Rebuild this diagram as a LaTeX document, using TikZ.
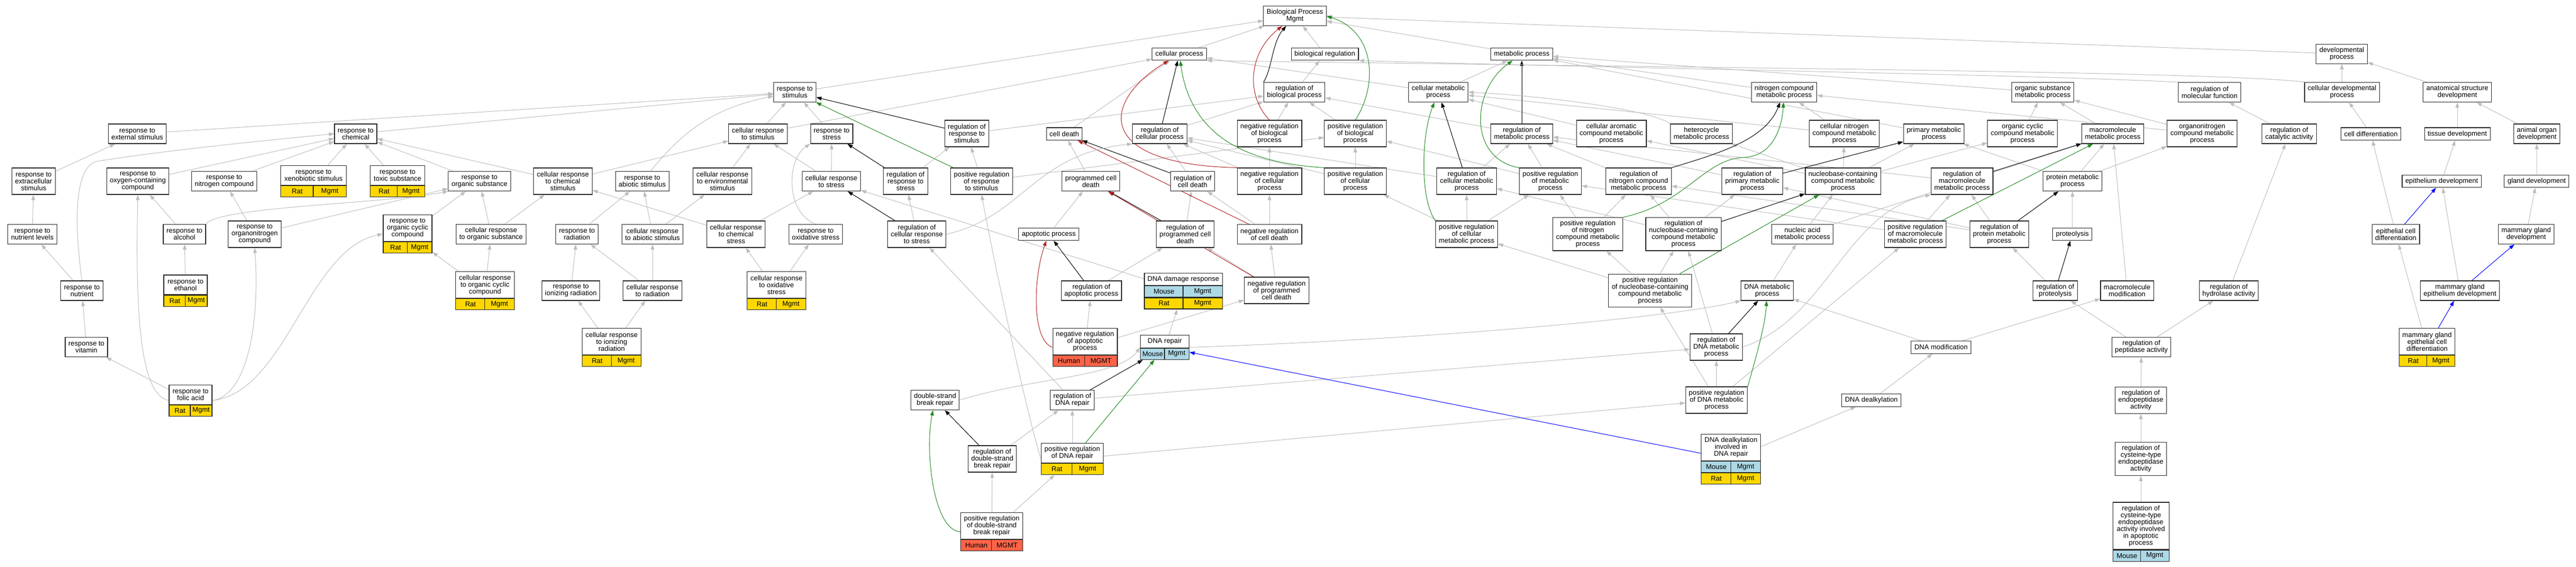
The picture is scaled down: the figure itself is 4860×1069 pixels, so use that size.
\documentclass[tikz,border=0pt]{standalone}
\usepackage{fontspec}
\setmainfont{Liberation Sans}
\usetikzlibrary{arrows.meta,calc,fit,backgrounds}
\pgfdeclarelayer{edges}
\pgfsetlayers{background,edges,main}
\definecolor{edgegray}{RGB}{190,190,190}
\definecolor{posgreen}{RGB}{34,139,34}
\definecolor{negred}{RGB}{178,34,34}
\definecolor{ratgold}{RGB}{255,215,0}
\definecolor{mouseblue}{RGB}{173,216,230}
\definecolor{humanred}{RGB}{255,99,71}
\definecolor{boxline}{RGB}{40,40,40}
\newcommand{\gofont}{\fontsize{13pt}{13pt}\selectfont}
\newcommand{\sprow}[6]{%
  \path let \p1=($(#2.south east)-(#1.south west)$) in
    node[#4, anchor=north west, minimum width=0.5*\x1] (#3a) at (#1.south west) {#5}
    node[#4, anchor=north east, minimum width=0.5*\x1] (#3b) at (#2.south east) {#6};}
\tikzset{
  term/.style={draw=boxline, line width=1.1pt, fill=white, align=center, inner xsep=6pt, inner ysep=2pt, font=\gofont},
  l1/.style={term, minimum height=23.5pt},
  l2/.style={term, minimum height=37pt},
  l3/.style={term, minimum height=50pt},
  l4/.style={term, minimum height=62.5pt},
  l6/.style={term, minimum height=89pt},
  spcell/.style={draw=boxline, line width=1.1pt, minimum height=21pt, inner sep=0pt, font=\gofont},
  rat/.style={spcell, fill=ratgold},
  mouse/.style={spcell, fill=mouseblue},
  human/.style={spcell, fill=humanred},
  rec/.style={inner sep=0pt},
  isa/.style={draw=edgegray, line width=1pt, -{Triangle[length=10pt,width=7pt]}},
  reg/.style={isa, draw=black},
  posreg/.style={isa, draw=posgreen},
  negreg/.style={isa, draw=negred},
  partof/.style={isa, draw=blue}
}
\begin{document}
\begin{tikzpicture}[x=1pt,y=-1pt]
\begin{pgfonlayer}{background}
\fill[white] (0,0) rectangle (4860,1069);
\end{pgfonlayer}
\useasboundingbox (0,0) rectangle (4860,1069);

\node[l2] (extstim) at (259,252.5) {response to\\external stimulus};
\node[l2] (chem) at (671,252.5) {response to\\chemical};
\node[l3] (extrac) at (63.5,342) {response to\\extracellular\\stimulus};
\node[l3] (oxy) at (260,342) {response to\\oxygen-containing\\compound};
\node[l2] (nitro) at (423,342) {response to\\nitrogen compound};
\node[l2, minimum width=124] (xeno-t) at (591.5,331) {response to\\xenobiotic stimulus};
\sprow{xeno-t}{xeno-t}{xeno-1}{rat}{Rat}{Mgmt}
\node[rec, fit=(xeno-t)(xeno-1a)(xeno-1b)] (xeno) {};
\node[l2, minimum width=103] (toxic-t) at (750,331) {response to\\toxic substance};
\sprow{toxic-t}{toxic-t}{toxic-1}{rat}{Rat}{Mgmt}
\node[rec, fit=(toxic-t)(toxic-1a)(toxic-1b)] (toxic) {};
\node[l2] (nutlev) at (61,442) {response to\\nutrient levels};
\node[l2] (alcohol) at (348,442) {response to\\alcohol};
\node[l3] (orgnitro) at (480.5,442) {response to\\organonitrogen\\compound};
\node[l3, minimum width=92] (orgcyc-t) at (769,430.5) {response to\\organic cyclic\\compound};
\sprow{orgcyc-t}{orgcyc-t}{orgcyc-1}{rat}{Rat}{Mgmt}
\node[rec, fit=(orgcyc-t)(orgcyc-1a)(orgcyc-1b)] (orgcyc) {};
\node[l2] (nutrient) at (154.5,548.5) {response to\\nutrient};
\node[l2, minimum width=82] (ethanol-t) at (350,537.5) {response to\\ethanol};
\sprow{ethanol-t}{ethanol-t}{ethanol-1}{rat}{Rat}{Mgmt}
\node[rec, fit=(ethanol-t)(ethanol-1a)(ethanol-1b)] (ethanol) {};
\node[l2] (vitamin) at (163,655) {response to\\vitamin};
\node[l2, minimum width=81] (folic-t) at (359.5,744.7) {response to\\folic acid};
\sprow{folic-t}{folic-t}{folic-1}{rat}{Rat}{Mgmt}
\node[rec, fit=(folic-t)(folic-1a)(folic-1b)] (folic) {};

\node[l2] (stim) at (1499.5,174) {response to\\stimulus};
\node[l2] (cstim) at (1430,252.5) {cellular response\\to stimulus};
\node[l2] (stress) at (1569,252.5) {response to\\stress};
\node[l2] (orgsub) at (904.6,342) {response to\\organic substance};
\node[l3] (cchem) at (1062,342) {cellular response\\to chemical\\stimulus};
\node[l2] (abiotic) at (1211.6,342) {response to\\abiotic stimulus};
\node[l3] (envstim) at (1363,342) {cellular response\\to environmental\\stimulus};
\node[l2] (cstress) at (1568.6,342) {cellular response\\to stress};
\node[l2] (corgsub) at (926.5,442) {cellular response\\to organic substance};
\node[l2] (radiation) at (1088.5,442) {response to\\radiation};
\node[l2] (cabiotic) at (1231,442) {cellular response\\to abiotic stimulus};
\node[l3] (cchemstress) at (1388.6,442) {cellular response\\to chemical\\stress};
\node[l2] (oxstress) at (1539,442) {response to\\oxidative stress};
\node[l3, minimum width=108.5] (corgcyc-t) at (915,537.8) {cellular response\\to organic cyclic\\compound};
\sprow{corgcyc-t}{corgcyc-t}{corgcyc-1}{rat}{Rat}{Mgmt}
\node[rec, fit=(corgcyc-t)(corgcyc-1a)(corgcyc-1b)] (corgcyc) {};
\node[l2] (ionrad) at (1077,548.5) {response to\\ionizing radiation};
\node[l2] (crad) at (1231,548.5) {cellular response\\to radiation};
\node[l3, minimum width=108.5] (coxstress-t) at (1465,537.8) {cellular response\\to oxidative\\stress};
\sprow{coxstress-t}{coxstress-t}{coxstress-1}{rat}{Rat}{Mgmt}
\node[rec, fit=(coxstress-t)(coxstress-1a)(coxstress-1b)] (coxstress) {};
\node[l3, minimum width=108] (cionrad-t) at (1154,644.5) {cellular response\\to ionizing\\radiation};
\sprow{cionrad-t}{cionrad-t}{cionrad-1}{rat}{Rat}{Mgmt}
\node[rec, fit=(cionrad-t)(cionrad-1a)(cionrad-1b)] (cionrad) {};

\node[l2] (bp) at (2443,30) {Biological Process\\Mgmt};
\node[l1] (cellproc) at (2225,102) {cellular process};
\node[l2] (regbio) at (2442,174) {regulation of\\biological process};
\node[l3] (regrstim) at (1824,252) {regulation of\\response to\\stimulus};
\node[l1] (celldeath) at (2008,252.7) {cell death};
\node[l2] (regcell) at (2188,252.5) {regulation of\\cellular process};
\node[l3] (negbio) at (2395,252) {negative regulation\\of biological\\process};
\node[l3] (regrstress) at (1708.5,342) {regulation of\\response to\\stress};
\node[l3] (posrstim) at (1852,342) {positive regulation\\of response\\to stimulus};
\node[l2] (pcd) at (2058,342) {programmed cell\\death};
\node[l2] (regcd) at (2250,342) {regulation of\\cell death};
\node[l3] (negcell) at (2395,342) {negative regulation\\of cellular\\process};
\node[l3] (regcstress) at (1729.7,442) {regulation of\\cellular response\\to stress};
\node[l1] (apop) at (1978.7,442) {apoptotic process};
\node[l3] (regpcd) at (2236,442) {regulation of\\programmed cell\\death};
\node[l2] (negcd) at (2395,442) {negative regulation\\of cell death};
\node[l1, minimum width=143] (dnadam-t) at (2232.5,527) {DNA damage response};
\sprow{dnadam-t}{dnadam-t}{dnadam-1}{mouse}{Mouse}{Mgmt}
\sprow{dnadam-1a}{dnadam-1b}{dnadam-2}{rat}{Rat}{Mgmt}
\node[rec, fit=(dnadam-t)(dnadam-2a)(dnadam-2b)] (dnadam) {};
\node[l2] (regapop) at (2059,548.5) {regulation of\\apoptotic process};
\node[l3] (negpcd) at (2408.5,548) {negative regulation\\of programmed\\cell death};
\node[l3, minimum width=119] (negapop-t) at (2047,644.5) {negative regulation\\of apoptotic\\process};
\sprow{negapop-t}{negapop-t}{negapop-1}{human}{Human}{MGMT}
\node[rec, fit=(negapop-t)(negapop-1a)(negapop-1b)] (negapop) {};
\node[l1, minimum width=91.5] (dnarep-t) at (2197.5,644.5) {DNA repair};
\sprow{dnarep-t}{dnarep-t}{dnarep-1}{mouse}{Mouse}{Mgmt}
\node[rec, fit=(dnarep-t)(dnarep-1a)(dnarep-1b)] (dnarep) {};
\node[l2] (dsb) at (1764,755) {double-strand\\break repair};
\node[l2] (regdnarep) at (2023,755) {regulation of\\DNA repair};
\node[l3] (regdsb) at (1872,866) {regulation of\\double-strand\\break repair};
\node[l2, minimum width=116] (posdnarep-t) at (2023,855) {positive regulation\\of DNA repair};
\sprow{posdnarep-t}{posdnarep-t}{posdnarep-1}{rat}{Rat}{Mgmt}
\node[rec, fit=(posdnarep-t)(posdnarep-1a)(posdnarep-1b)] (posdnarep) {};
\node[l3, minimum width=116.7] (posdsb-t) at (1871,992.6) {positive regulation\\of double-strand\\break repair};
\sprow{posdsb-t}{posdsb-t}{posdsb-1}{human}{Human}{MGMT}
\node[rec, fit=(posdsb-t)(posdsb-1a)(posdsb-1b)] (posdsb) {};

\node[l1] (bioreg) at (2499.5,102) {biological regulation};
\node[l1] (metab) at (2871,102) {metabolic process};
\node[l2] (cellmet) at (2713.5,174) {cellular metabolic\\process};
\node[l3] (posbio) at (2557,252) {positive regulation\\of biological\\process};
\node[l2] (regmet) at (2871,252.5) {regulation of\\metabolic process};
\node[l3] (arom) at (3040,252) {cellular aromatic\\compound metabolic\\process};
\node[l2] (hetero) at (3210,252.5) {heterocycle\\metabolic process};
\node[l3] (poscell) at (2557,342) {positive regulation\\of cellular\\process};
\node[l3] (regcellmet) at (2767,342) {regulation of\\cellular metabolic\\process};
\node[l3] (posmet) at (2925,342) {positive regulation\\of metabolic\\process};
\node[l3] (regnmet) at (3091.5,342) {regulation of\\nitrogen compound\\metabolic process};
\node[l3] (poscellmet) at (2767,442) {positive regulation\\of cellular\\metabolic process};
\node[l4] (posnmet) at (2995.7,441.7) {positive regulation\\of nitrogen\\compound metabolic\\process};
\node[l4] (regnuc) at (3176,441.7) {regulation of\\nucleobase-containing\\compound metabolic\\process};
\node[l4] (posnuc) at (3113,548.3) {positive regulation\\of nucleobase-containing\\compound metabolic\\process};
\node[l3] (regdnamet) at (3238,655) {regulation of\\DNA metabolic\\process};
\node[l3] (posdnamet) at (3238.5,755) {positive regulation\\of DNA metabolic\\process};

\node[l2] (nmet) at (3366,174) {nitrogen compound\\metabolic process};
\node[l2] (orgsubmet) at (3854,174) {organic substance\\metabolic process};
\node[l3] (cnmet) at (3479.6,252) {cellular nitrogen\\compound metabolic\\process};
\node[l2] (primet) at (3648.5,252.5) {primary metabolic\\process};
\node[l3] (orgcycmet) at (3815.8,252) {organic cyclic\\compound metabolic\\process};
\node[l2] (macromet) at (3986,252.5) {macromolecule\\metabolic process};
\node[l3] (regprimet) at (3306,342) {regulation of\\primary metabolic\\process};
\node[l3] (nucmet) at (3477,342) {nucleobase-containing\\compound metabolic\\process};
\node[l3] (regmacro) at (3701.6,342) {regulation of\\macromolecule\\metabolic process};
\node[l2] (protmet) at (3910,342) {protein metabolic\\process};
\node[l2] (nucacid) at (3400.5,442) {nucleic acid\\metabolic process};
\node[l3] (posmacro) at (3613.5,442) {positive regulation\\of macromolecule\\metabolic process};
\node[l3] (regprot) at (3771.8,442) {regulation of\\protein metabolic\\process};
\node[l1] (proteol) at (3909.8,442) {proteolysis};
\node[l2] (dnamet) at (3334,548.5) {DNA metabolic\\process};
\node[l2] (regproteol) at (3877.5,548.5) {regulation of\\proteolysis};
\node[l2] (macromod) at (4013,548.5) {macromolecule\\modification};
\node[l1] (dnamod) at (3662,655.3) {DNA modification};
\node[l1] (dealk) at (3530.6,755.3) {DNA dealkylation};
\node[l3, minimum width=111] (dealkrep-t) at (3265.7,844.5) {DNA dealkylation\\involved in\\DNA repair};
\sprow{dealkrep-t}{dealkrep-t}{dealkrep-1}{mouse}{Mouse}{Mgmt}
\sprow{dealkrep-1a}{dealkrep-1b}{dealkrep-2}{rat}{Rat}{Mgmt}
\node[rec, fit=(dealkrep-t)(dealkrep-2a)(dealkrep-2b)] (dealkrep) {};
\node[l2] (regpept) at (4040,655) {regulation of\\peptidase activity};
\node[l3] (regendo) at (4039,755.4) {regulation of\\endopeptidase\\activity};
\node[l4] (regcys) at (4039,866) {regulation of\\cysteine-type\\endopeptidase\\activity};
\node[l6, minimum width=106] (regcysapop-t) at (4039,992.5) {regulation of\\cysteine-type\\endopeptidase\\activity involved\\in apoptotic\\process};
\sprow{regcysapop-t}{regcysapop-t}{regcysapop-1}{mouse}{Mouse}{Mgmt}
\node[rec, fit=(regcysapop-t)(regcysapop-1a)(regcysapop-1b)] (regcysapop) {};

\node[l2] (devel) at (4418,101.7) {developmental\\process};
\node[l2] (regmol) at (4168.6,174) {regulation of\\molecular function};
\node[l2] (celldev) at (4418.6,174) {cellular developmental\\process};
\node[l2] (anat) at (4636,174) {anatomical structure\\development};
\node[l3] (orgnmet) at (4154.7,252) {organonitrogen\\compound metabolic\\process};
\node[l2] (regcat) at (4319,252.5) {regulation of\\catalytic activity};
\node[l1] (celldiff) at (4473,252.7) {cell differentiation};
\node[l1] (tissue) at (4636,252.7) {tissue development};
\node[l2] (organ) at (4786,252.5) {animal organ\\development};
\node[l1] (epith) at (4606.6,342) {epithelium development};
\node[l1] (gland) at (4785.7,342) {gland development};
\node[l2] (epicell) at (4520,442) {epithelial cell\\differentiation};
\node[l2] (mamdev) at (4766,442) {mammary gland\\development};
\node[l2] (reghydro) at (4205,548.5) {regulation of\\hydrolase activity};
\node[l2] (mamepi) at (4641,548.5) {mammary gland\\epithelium development};
\node[l3, minimum width=103] (mamcell-t) at (4579,644.5) {mammary gland\\epithelial cell\\differentiation};
\sprow{mamcell-t}{mamcell-t}{mamcell-1}{rat}{Rat}{Mgmt}
\node[rec, fit=(mamcell-t)(mamcell-1a)(mamcell-1b)] (mamcell) {};

\begin{pgfonlayer}{edges}
\foreach \c/\p in {extrac/extstim, nutlev/extrac, nutrient/nutlev, vitamin/nutrient, folic/vitamin,
  oxy/chem, nitro/chem, xeno/chem, toxic/chem, alcohol/oxy, ethanol/alcohol, orgnitro/nitro,
  orgnitro/orgsub, orgcyc/orgsub, corgcyc/orgcyc, corgcyc/corgsub, orgsub/chem, cchem/chem,
  cchem/cstim, extstim/stim, chem/stim, cstim/stim, stress/stim, cstim/cellproc, envstim/cstim,
  cstress/cstim, cstress/stress, corgsub/orgsub, corgsub/cchem, radiation/abiotic, cabiotic/abiotic,
  cabiotic/envstim, cchemstress/cchem, cchemstress/cstress, ionrad/radiation, crad/radiation,
  crad/cabiotic, coxstress/cchemstress, coxstress/oxstress, cionrad/ionrad, cionrad/crad,
  dnadam/cstress, stim/bp, cellproc/bp, bioreg/bp, metab/bp, devel/bp, regrstim/regbio,
  regrstress/regrstim, posrstim/regrstim, posrstim/posbio, regcstress/regrstress,
  regdnarep/regcstress, celldeath/cellproc, pcd/celldeath, apop/pcd, regcd/regcell, regpcd/regcd,
  regapop/regpcd, negpcd/regpcd, negpcd/negcd, negcd/negcell, negcd/regcd, negapop/regapop,
  negapop/negpcd, regcell/regbio, regbio/bioreg, posbio/regbio, negbio/regbio, negcell/negbio,
  negcell/regcell, poscell/posbio, poscell/regcell, dnarep/dnadam, regdsb/regdnarep,
  posdnarep/regdnarep, posdnarep/posdnamet, posdsb/regdsb, posdsb/posdnarep, regdnarep/regdnamet,
  cellmet/metab, cellmet/cellproc, regmet/regbio, posmet/regmet, posmet/posbio, regcellmet/regmet,
  regcellmet/regcell, poscellmet/regcellmet, poscellmet/posmet, poscellmet/poscell, regnmet/regmet,
  posnmet/regnmet, posnmet/posmet, regnuc/regnmet, regnuc/regcellmet, regnuc/regprimet,
  posnuc/regnuc, posnuc/posnmet, posnuc/poscellmet, arom/cellmet, cnmet/cellmet, cnmet/nmet,
  nmet/metab, primet/metab, orgsubmet/metab, nucmet/arom, nucmet/hetero, nucmet/cnmet,
  nucmet/orgcycmet, nucmet/primet, orgcycmet/orgsubmet, macromet/orgsubmet, orgnmet/orgsubmet,
  orgnmet/nmet, regprimet/regmet, regmacro/regmet, posmacro/regmacro, posmacro/posmet,
  regprot/regmacro, regprot/regprimet, regprot/regnmet, protmet/macromet, protmet/primet,
  protmet/orgnmet, proteol/protmet, regproteol/regprot, nucacid/nucmet, nucacid/macromet,
  dnamet/nucacid, regdnamet/regnuc, posdnamet/regdnamet, posdnamet/posnuc, posdnamet/posmacro,
  dnamod/dnamet, dnamod/macromod, macromod/macromet, dealk/dnamod, dealkrep/dealk,
  regpept/regproteol, regpept/reghydro, reghydro/regcat, regcat/regmol, regendo/regpept,
  regcys/regendo, regcysapop/regcys, celldev/devel, anat/devel, celldiff/celldev, tissue/anat,
  organ/anat, epith/tissue, gland/organ, epicell/celldiff, mamdev/gland, mamepi/epith,
  mamcell/epicell}
  \draw[isa] (\c) -- (\p);
\foreach \c/\p in {regrstim/stim, regrstress/stress, regcstress/cstress, regcd/celldeath,
  regpcd/pcd, regapop/apop, regcell/cellproc, regmet/metab, regcellmet/cellmet, regnuc/nucmet,
  regprimet/primet, regmacro/macromet, regprot/protmet, regproteol/proteol, regdnamet/dnamet,
  regdnarep/dnarep, regdsb/dsb}
  \draw[reg] (\c) -- (\p);
\foreach \c/\p in {posrstim/stim, posnuc/nucmet, posmacro/macromet, posdnarep/dnarep}
  \draw[posreg] (\c) -- (\p);
\foreach \c/\p in {negcd/celldeath, negpcd/pcd}
  \draw[negreg] (\c) -- (\p);
\foreach \c/\p in {dealkrep/dnarep, epicell/epith, mamepi/mamdev, mamcell/mamepi}
  \draw[partof] (\c) -- (\p);

\draw[isa] (nutrient.north) .. controls (140,420) and (140,320) .. (180,305) .. controls (300,285) and (500,265) .. (chem.west);
\draw[isa] (folic.west) .. controls (265,745) and (255,600) .. (oxy.south);
\draw[isa] (folic.east) .. controls (470,745) and (490,600) .. (orgnitro.south);
\draw[isa] (folic.east) .. controls (540,740) and (580,470) .. (orgcyc.west);
\draw[isa] (alcohol.north east) .. controls (410,390) and (720,385) .. (orgsub.south west);
\draw[isa] (abiotic) to[bend left=20] (stim);
\draw[isa] (oxstress.north) .. controls (1480,400) and (1485,300) .. (stress.south west);
\draw[isa] (regcstress.east) .. controls (1930,410) and (1950,290) .. (regcell.south west);
\draw[isa] (posdnarep.west) .. controls (1940,790) and (1880,520) .. (posrstim.south);
\draw[isa] (dsb.east) .. controls (1950,712) and (2110,712) .. (dnarep.west);
\draw[isa] (dnarep.east) .. controls (2700,640) and (3150,600) .. (dnamet.south west);
\draw[isa] (regdnamet.east) .. controls (3450,600) and (3480,400) .. (regmacro.south west);
\draw[isa] (hetero.north west) .. controls (3110,205) and (2900,180) .. (cellmet.east);
\draw[isa] (celldev.north west) .. controls (4200,135) and (3200,128) .. (cellproc.south east);
\draw[isa] (regmol.north west) .. controls (3800,140) and (3100,130) .. (bioreg.south east);
\draw[reg] (regbio.north west) .. controls (2400,130) and (2400,80) .. (bp);
\draw[reg] (regnmet.north east) .. controls (3240,290) and (3330,265) .. (nmet);
\draw[posreg] (poscell.north west) .. controls (2400,310) and (2250,285) .. (cellproc);
\draw[posreg] (posbio.north) .. controls (2600,160) and (2595,60) .. (bp.east);
\draw[posreg] (posmet.north west) .. controls (2770,300) and (2775,170) .. (metab);
\draw[posreg] (poscellmet.north west) .. controls (2680,380) and (2680,260) .. (cellmet);
\draw[posreg] (posnmet.north east) .. controls (3180,385) and (3215,300) .. (3290,297) .. controls (3345,295) and (3362,240) .. (nmet);
\draw[posreg] (posdnamet.north east) .. controls (3305,700) and (3330,620) .. (dnamet);
\draw[posreg] (posdsb.west) .. controls (1760,1000) and (1745,850) .. (dsb);
\draw[negreg] (negbio.north) .. controls (2350,180) and (2355,100) .. (bp);
\draw[negreg] (negcell.north west) .. controls (2060,310) and (2080,190) .. (cellproc);
\draw[negreg] (negapop.west) .. controls (1945,640) and (1950,520) .. (apop);
\end{pgfonlayer}
\end{tikzpicture}
\end{document}
